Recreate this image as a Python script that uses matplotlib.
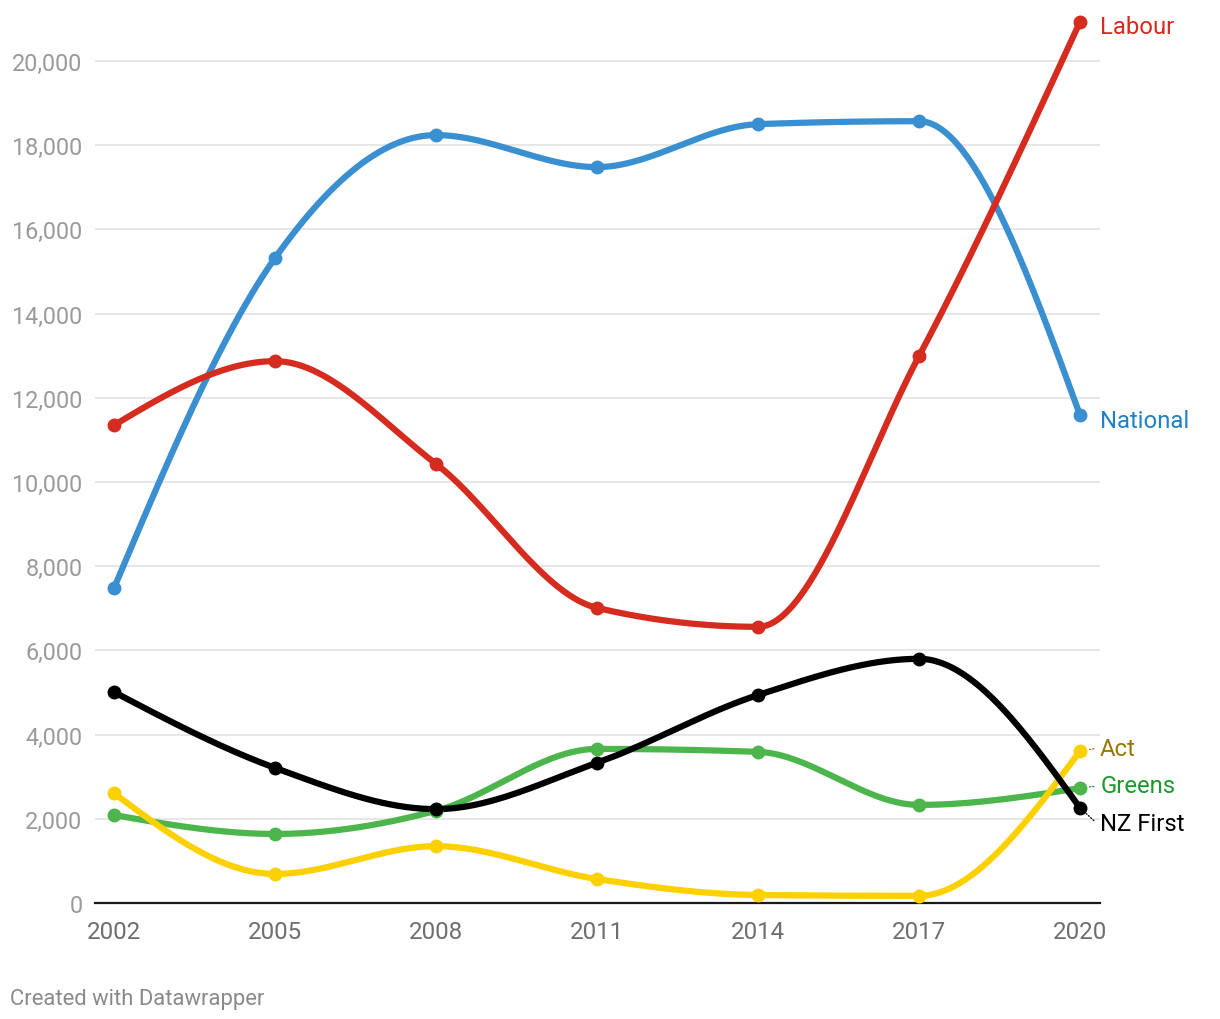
import numpy as np
import matplotlib
matplotlib.use("Agg")
import matplotlib.pyplot as plt

plt.rcParams['font.family'] = ['Roboto', 'DejaVu Sans']

years = ['2002', '2005', '2008', '2011', '2014', '2017', '2020']

national = [7480, 15320, 18240, 17480, 18500, 18570, 11590]
labour = [11350, 12870, 10430, 7010, 6560, 12990, 20930]
greens = [2090, 1640, 2190, 3660, 3590, 2330, 2730]
act = [2610, 690, 1350, 570, 190, 170, 3610]
nz_first = [5010, 3210, 2230, 3330, 4940, 5800, 2260]

y_ticks = list(range(0, 20001, 2000))


def monotone_x(xs, ys, n=60):
    # same smoothing as d3.curveMonotoneX
    xs = np.asarray(xs, float)
    ys = np.asarray(ys, float)
    h = np.diff(xs)
    s = np.diff(ys) / h
    t = np.zeros(len(xs))
    for i in range(1, len(xs) - 1):
        h0, h1 = h[i - 1], h[i]
        s0, s1 = s[i - 1], s[i]
        p = (s0 * h1 + s1 * h0) / (h0 + h1)
        t[i] = (np.sign(s0) + np.sign(s1)) * min(abs(s0), abs(s1), 0.5 * abs(p))
    t[0] = (3 * s[0] - t[1]) / 2
    t[-1] = (3 * s[-1] - t[-2]) / 2
    px, py = [], []
    for i in range(len(xs) - 1):
        u = np.linspace(0, 1, n)
        dx = h[i]
        h00 = 2 * u**3 - 3 * u**2 + 1
        h10 = u**3 - 2 * u**2 + u
        h01 = -2 * u**3 + 3 * u**2
        h11 = u**3 - u**2
        px.append(xs[i] + u * dx)
        py.append(h00 * ys[i] + h10 * dx * t[i] + h01 * ys[i + 1] + h11 * dx * t[i + 1])
    return np.concatenate(px), np.concatenate(py)


fig = plt.figure(figsize=(12.2, 10.2), dpi=100)
ax = fig.add_axes([95 / 1220, 116 / 1020, 1005 / 1220, 888 / 1020])

x = np.arange(len(years))
ax.set_xlim(-19 / 161, 6 + 20 / 161)
ax.set_ylim(0, 888 / 42.1 * 1000)

for v in y_ticks[1:]:
    ax.axhline(v, color='#e3e3e3', lw=1.2, zorder=0)

# name, values, line colour, label colour, connector
series = [
    ('National', national, '#3a8fd1', '#1f82c6', False),
    ('Labour', labour, '#d62b1f', '#d62b1f', False),
    ('Greens', greens, '#4cb64c', '#1c9a2c', True),
    ('Act', act, '#fdd000', '#9a7600', True),
    ('NZ First', nz_first, '#000000', '#000000', True),
]
label_offsets = {'National': -3.6, 'Labour': -3, 'Greens': 1.5, 'Act': 2, 'NZ First': -11.5}

for name, vals, col, tcol, conn in series:
    sx, sy = monotone_x(x, vals)
    ax.plot(sx, sy, color=col, lw=4.5, solid_capstyle='round', zorder=3, clip_on=False)
    ax.plot(x, vals, 'o', color=col, ms=9, zorder=4, clip_on=False)
    dy = label_offsets[name]
    ax.annotate(name, xy=(x[-1], vals[-1]), xytext=(14.5, dy), textcoords='offset points',
                ha='left', va='center', fontsize=17.2, color=tcol, zorder=5,
                annotation_clip=False)
    if conn:
        ax.annotate('', xy=(x[-1], vals[-1]), xytext=(10, dy * 0.8),
                    textcoords='offset points', annotation_clip=False,
                    arrowprops=dict(arrowstyle='-', color=tcol, lw=0.9, linestyle=(0, (1, 1.5)),
                                    shrinkA=0, shrinkB=6))

ax.set_yticks(y_ticks)
ax.set_yticklabels(['{:,}'.format(v) for v in y_ticks])
ax.set_xticks(x)
ax.set_xticklabels(years)
ax.tick_params(axis='y', length=0, pad=9, labelsize=16.8, labelcolor='#9a9a9a')
ax.tick_params(axis='x', length=0, pad=12, labelsize=17.4, labelcolor='#6e6e6e')

for sp in ['top', 'right', 'left']:
    ax.spines[sp].set_visible(False)
ax.spines['bottom'].set_color('#1a1a1a')
ax.spines['bottom'].set_linewidth(1.6)
ax.spines['bottom'].set_zorder(2)

fig.text(10 / 1220, 1 - 1000 / 1020, 'Created with Datawrapper', ha='left', va='center',
         fontsize=15.8, color='#8a8a8a')

fig.savefig('out.png', dpi=100)
